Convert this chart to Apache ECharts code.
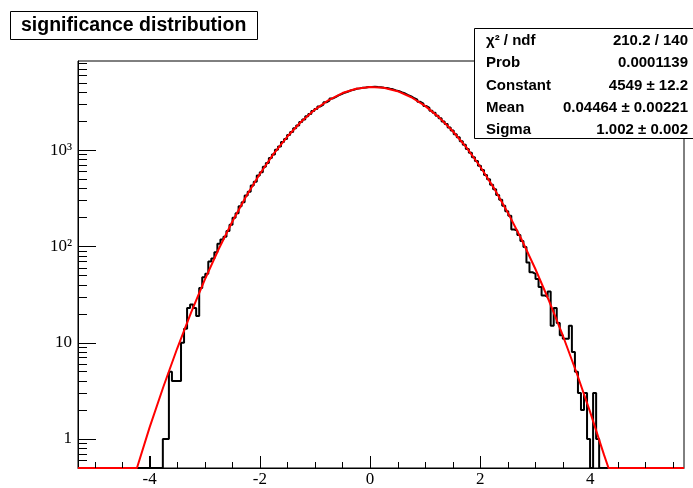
<!DOCTYPE html>
<html>
<head>
<meta charset="utf-8">
<script src="https://cdn.jsdelivr.net/npm/echarts@6/dist/echarts.min.js"></script>
<style>
  html, body { margin: 0; padding: 0; background: #fff; }
  #chart { width: 693px; height: 488px; }
</style>
</head>
<body>
<div id="chart"></div>
<script>
// histogram binning (200 bins)
const xMin = -5.3;
const xMax = 5.7;
const binWidth = 0.055;

// bin contents, left to right
const counts = [
  0, 0, 0, 0, 0, 0, 0, 0, 0, 0, 0, 0, 0, 0, 0, 0, 0, 0, 0, 0, 0, 0, 0, 0, 0, 0, 0, 0,
  1, 1, 5, 4, 4, 4, 10, 14, 23, 25, 23, 19, 37, 48, 52, 70, 75, 87, 107, 118, 126,
  145, 168, 199, 221, 262, 288, 338, 371, 431, 470, 545, 591, 675, 738, 830, 905, 1010,
  1095, 1215, 1310, 1442, 1549, 1694, 1806, 1964, 2085, 2250, 2379, 2548, 2680, 2852,
  2981, 3150, 3277, 3441, 3560, 3712, 3820, 3960, 4050, 4172, 4240, 4345, 4390, 4468,
  4489, 4541, 4530, 4562, 4525, 4520,
  4460, 4431, 4345, 4290, 4182, 4105, 3978, 3880, 3736, 3625, 3468, 3346, 3180, 3050,
  2880, 2750, 2578, 2447, 2280, 2153, 1990, 1870, 1718, 1606, 1465, 1362, 1236, 1140,
  1028, 944, 846, 772, 688, 624, 552, 498, 438, 393, 342, 305, 265, 232, 208,
  150, 146, 132, 114, 99, 68, 54, 52, 46, 38, 31, 30, 34, 15, 23, 16, 12, 11, 11, 15,
  8, 5, 3, 2, 3, 1, 0, 3, 1,
  0, 0, 0, 0, 0, 0, 0, 0, 0, 0, 0, 0, 0, 0, 0, 0, 0, 0, 0, 0, 0, 0, 0, 0, 0, 0, 0, 0
];

// gaus fit curve as drawn (clamped at the frame bottom outside the tails)
const fitX = [-5.3, -4.23, -4.0, -3.75, -3.5, -3.25, -3.0, -2.75, -2.5, -2.25, -2.0, -1.75,
  -1.5, -1.25, -1.0, -0.75, -0.5, -0.25, 0, 0.25, 0.5, 0.75, 1.0, 1.25, 1.5, 1.75, 2.0,
  2.25, 2.5, 2.75, 3.0, 3.25, 3.5, 3.75, 4.0, 4.25, 4.33, 5.7];
const fitY = [0.5, 0.5, 1.32, 3.49, 8.71, 20.4, 45.0, 93.1, 180.8, 330.5, 567, 915,
  1387, 1974, 2642, 3322, 3924, 4357, 4545, 4454, 4103, 3550, 2887, 2206, 1584, 1069, 677,
  404, 226, 119, 58.7, 27.3, 11.9, 4.88, 1.88, 0.68, 0.5, 0.5];

const yMin = 0.5;
const yMax = 8450;

const xMajorTicks = [-4, -2, 0, 2, 4];
const xMinorTicks = [-5, -4.5, -3.5, -3, -2.5, -1.5, -1, -0.5, 0.5, 1, 1.5, 2.5, 3, 3.5, 4.5, 5, 5.5];
const yMajorTicks = [1, 10, 100, 1000];
const yMajorLabels = ['1', '10', '10\u00b2', '10\u00b3'];
const yMinorTicks = [0.6, 0.7, 0.8, 0.9, 2, 3, 4, 5, 6, 7, 8, 9, 20, 30, 40, 50, 60, 70, 80, 90,
  200, 300, 400, 500, 600, 700, 800, 900, 2000, 3000, 4000, 5000, 6000, 7000, 8000];

const titleText = 'significance distribution';
const statNames = ['\u03c7\u00b2 / ndf', 'Prob', 'Constant', 'Mean', 'Sigma'];
const statValues = ['210.2 / 140', '0.0001139', '4549 \u00b1 12.2', '0.04464 \u00b1 0.00221', '1.002 \u00b1 0.002'];

// step outline of the histogram, empty bins sit on the frame bottom
const stepData = [];
counts.forEach((c, i) => {
  const lo = xMin + i * binWidth;
  const hi = lo + binWidth;
  const v = c > 0 ? c : yMin;
  stepData.push([lo, v], [hi, v]);
});
const fitData = fitX.map((x, i) => [x, fitY[i]]);
// x tick marks: [x, bottom, isMajor]
const xTickData = xMajorTicks.map(v => [v, yMin, 1]).concat(xMinorTicks.map(v => [v, yMin, 0]));

const lgMin = Math.log10(yMin), lgMax = Math.log10(yMax);
const serif = 'Liberation Serif';
const sans = 'Liberation Sans';

const chart = echarts.init(document.getElementById('chart'));

const statRows = [41, 63, 86, 108, 130];
const graphics = [{
  type: 'rect', z: 100,
  shape: { x: 474.5, y: 28.5, width: 230, height: 110 },
  style: { fill: '#fff', stroke: '#000', lineWidth: 1 }
}];
statNames.forEach((name, i) => {
  graphics.push({
    type: 'text', z: 101, x: 486, y: statRows[i],
    style: { text: name, font: 'bold 15px ' + sans, fill: '#000', textAlign: 'left', textVerticalAlign: 'middle' }
  });
  graphics.push({
    type: 'text', z: 101, x: 688, y: statRows[i],
    style: { text: statValues[i], font: 'bold 15px ' + sans, fill: '#000', textAlign: 'right', textVerticalAlign: 'middle' }
  });
});

// helper axes only carry ticks and labels
const hidden = {
  axisLine: { show: false, onZero: false },
  axisTick: { show: false },
  axisLabel: { show: false },
  splitLine: { show: false }
};

const option = {
  animation: false,
  backgroundColor: '#fff',
  title: {
    text: titleText,
    left: 10, top: 11,
    padding: [4, 11, 3, 11],
    borderColor: '#000', borderWidth: 1,
    backgroundColor: '#fff',
    textStyle: { fontFamily: sans, fontWeight: 'bold', fontSize: 19.5, color: '#000', lineHeight: 22 }
  },
  grid: {
    left: 78, top: 61, right: 9, bottom: 17,
    show: true, borderColor: '#000', borderWidth: 1, backgroundColor: 'transparent'
  },
  xAxis: [{
    type: 'value', min: xMin, max: xMax, position: 'bottom', ...hidden
  }, {
    type: 'value', min: xMin, max: xMax, position: 'bottom',
    axisLine: { show: true, onZero: false, lineStyle: { color: '#000', width: 1 } },
    axisTick: { show: true, inside: true, length: 12, customValues: xMajorTicks, lineStyle: { color: '#000' } },
    axisLabel: {
      show: true, customValues: xMajorTicks, margin: 3,
      fontFamily: serif, fontSize: 17, color: '#000'
    },
    splitLine: { show: false }
  }],
  yAxis: [{
    type: 'log', logBase: 10, min: yMin, max: yMax, position: 'left', ...hidden
  }, {
    type: 'value', min: lgMin, max: lgMax, position: 'left',
    axisLine: { show: true, onZero: false, lineStyle: { color: '#000', width: 1 } },
    axisTick: {
      show: true, inside: true, length: 18,
      customValues: yMajorTicks.map(v => Math.log10(v)), lineStyle: { color: '#000' }
    },
    axisLabel: {
      show: true, margin: 6,
      customValues: yMajorTicks.map(v => Math.log10(v)),
      formatter: (val) => {
        const i = yMajorTicks.findIndex(t => Math.abs(Math.log10(t) - val) < 1e-6);
        return i >= 0 ? yMajorLabels[i] : '';
      },
      fontFamily: serif, fontSize: 17, color: '#000'
    },
    splitLine: { show: false }
  }, {
    type: 'value', min: lgMin, max: lgMax, position: 'left',
    axisLine: { show: false, onZero: false },
    axisTick: {
      show: true, inside: true, length: 9,
      customValues: yMinorTicks.map(v => Math.log10(v)), lineStyle: { color: '#000' }
    },
    axisLabel: { show: false },
    splitLine: { show: false }
  }],
  series: [{
    name: 'significance',
    type: 'line',
    xAxisIndex: 0, yAxisIndex: 0,
    data: stepData,
    symbol: 'none',
    clip: true,
    lineStyle: { color: '#000', width: 2 },
    z: 2
  }, {
    name: 'gaus fit',
    type: 'line',
    xAxisIndex: 0, yAxisIndex: 0,
    data: fitData,
    symbol: 'none',
    clip: true,
    lineStyle: { color: '#ff0000', width: 2 },
    z: 3
  }, {
    // x axis tick marks along the frame bottom
    name: 'xticks',
    type: 'custom',
    xAxisIndex: 0, yAxisIndex: 0,
    silent: true,
    clip: false,
    encode: { x: 0, y: 1 },
    data: xTickData,
    renderItem: (params, api) => {
      const p = api.coord([api.value(0), api.value(1)]);
      const len = api.value(2) ? 12 : 6;
      const x = Math.round(p[0]) + 0.5;
      return {
        type: 'line',
        shape: { x1: x, y1: p[1], x2: x, y2: p[1] - len },
        style: { stroke: '#000', lineWidth: 1 }
      };
    },
    z: 4
  }],
  graphic: graphics
};

chart.setOption(option);
</script>
</body>
</html>
